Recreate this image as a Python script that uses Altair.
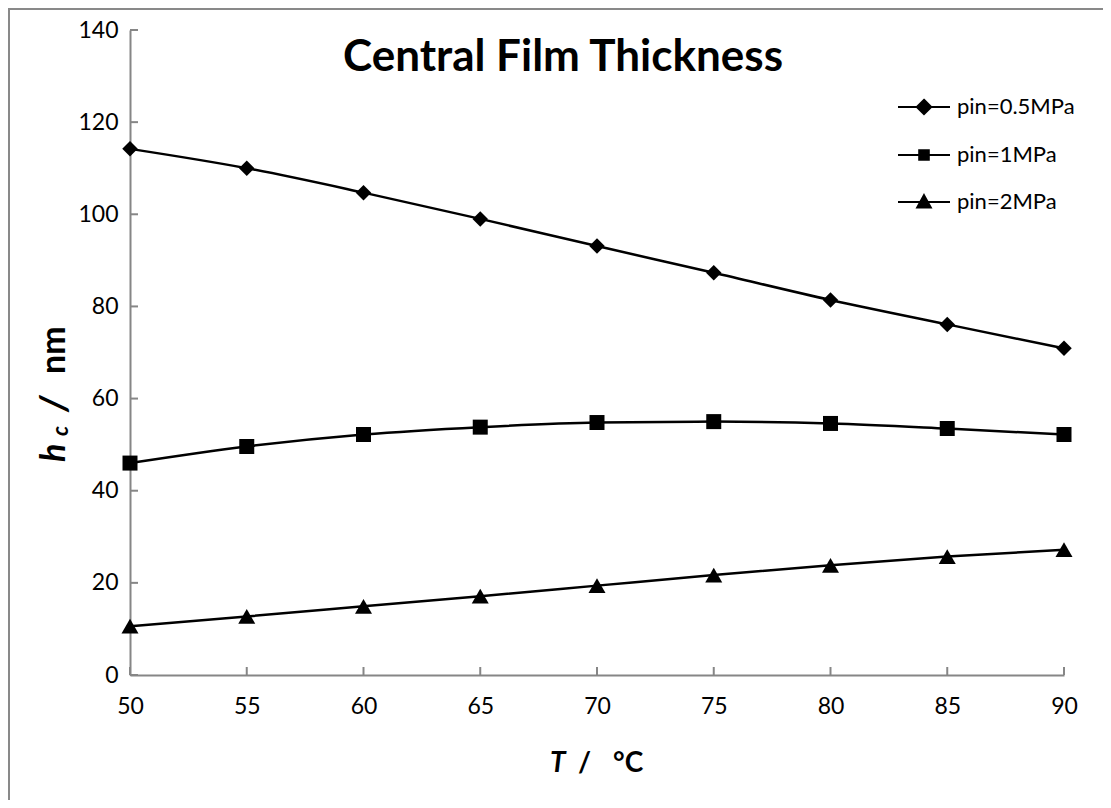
import altair as alt
import pandas as pd

# ---- data ----
T = [50, 55, 60, 65, 70, 75, 80, 85, 90]
series_names = ["pin=0.5MPa", "pin=1MPa", "pin=2MPa"]
hc_05 = [114.2, 110.0, 104.7, 99.0, 93.1, 87.3, 81.4, 76.1, 70.9]
hc_1 = [46.0, 49.6, 52.2, 53.8, 54.8, 55.0, 54.6, 53.5, 52.2]
hc_2 = [10.6, 12.7, 14.9, 17.1, 19.4, 21.7, 23.8, 25.7, 27.2]
x_ticks = [50, 55, 60, 65, 70, 75, 80, 85, 90]
y_ticks = [0, 20, 40, 60, 80, 100, 120, 140]

rows = []
for name, vals in zip(series_names, [hc_05, hc_1, hc_2]):
    for t, v in zip(T, vals):
        rows.append({"T": t, "hc": v, "series": name})
df = pd.DataFrame(rows)

W, H = 934, 645
FONT = "Lato"
AX = "#868686"

xs = alt.Scale(domain=[50, 90], nice=False, zero=False)
ys = alt.Scale(domain=[0, 140], nice=False)

xaxis = alt.Axis(values=x_ticks, title=None, grid=False, ticks=False, domainColor=AX,
                 domainWidth=2, labelFont=FONT, labelFontSize=23, labelColor="black",
                 labelPadding=20, labelFlush=False)
yaxis = alt.Axis(values=y_ticks, title=None, grid=False, ticks=False, domainColor=AX,
                 domainWidth=2, labelFont=FONT, labelFontSize=23, labelColor="black",
                 labelPadding=12)

base = alt.Chart(df)

lines = base.mark_line(color="black", strokeWidth=2.5, interpolate="monotone").encode(
    x=alt.X("T:Q", scale=xs, axis=xaxis),
    y=alt.Y("hc:Q", scale=ys, axis=yaxis),
    detail="series:N",
)

marker_shapes = ["diamond", "square", "triangle-up"]
marker_sizes = [240, 225, 290]
point_layers = []
for name, shp, sz in zip(series_names, marker_shapes, marker_sizes):
    point_layers.append(
        base.transform_filter(alt.datum.series == name)
        .mark_point(filled=True, color="black", opacity=1, shape=shp, size=sz)
        .encode(x=alt.X("T:Q", scale=xs), y=alt.Y("hc:Q", scale=ys))
    )


# legend symbols: line through a solid marker (solid drawn by concentric strokes)
def poly(pts):
    return "M" + "L".join(f"{x:.3f},{y:.3f}" for x, y in pts) + "Z"


def concentric(pts, cx, cy, steps):
    out = ""
    for k in range(steps, 0, -1):
        f = k / steps
        out += poly([(cx + (x - cx) * f, cy + (y - cy) * f) for x, y in pts])
    return out


diamond = [(0, -0.36), (0.36, 0), (0, 0.36), (-0.36, 0)]
square = [(-0.24, -0.24), (0.24, -0.24), (0.24, 0.24), (-0.24, 0.24)]
tri = [(0, -0.34), (0.34, 0.28), (-0.34, 0.28)]
LINE = "M-1.3,0L1.3,0"
leg_paths = [
    LINE + concentric(diamond, 0, 0, 7),
    LINE + concentric(square, 0, 0, 5),
    LINE + concentric(tri, 0, 0.073, 7),
]

legend_layer = base.mark_point(filled=False, color="black", strokeWidth=2, opacity=0).encode(
    x=alt.X("T:Q", scale=xs),
    y=alt.Y("hc:Q", scale=ys),
    shape=alt.Shape("series:N", scale=alt.Scale(domain=series_names, range=leg_paths),
                    legend=alt.Legend(title=None, orient="none", legendX=773, legendY=56,
                                      symbolSize=1600, symbolOpacity=1,
                                      symbolStrokeColor="black", symbolStrokeWidth=2,
                                      labelFont=FONT, labelFontSize=22,
                                      labelColor="black", labelOffset=12, rowPadding=15,
                                      padding=0)),
)

ytick_rules = alt.Chart(pd.DataFrame({"v": y_ticks})).mark_rule(color=AX, strokeWidth=2).encode(
    y=alt.Y("v:Q", scale=ys), x=alt.value(0), x2=alt.value(8))
xtick_rules = alt.Chart(pd.DataFrame({"v": x_ticks})).mark_rule(color=AX, strokeWidth=2).encode(
    x=alt.X("v:Q", scale=xs), y=alt.value(H - 8), y2=alt.value(H))

one = alt.Chart(pd.DataFrame({"k": [0]}))

frame = one.mark_rect(fill="transparent", stroke="#898989", strokeWidth=2).encode(
    x=alt.value(-121), y=alt.value(-21), x2=alt.value(1300), y2=alt.value(1000))

title = one.mark_text(text="Central Film Thickness", font=FONT, fontSize=44, fontWeight="bold",
                      align="center", baseline="alphabetic", color="black").encode(
    x=alt.value(433), y=alt.value(41))

xt1 = one.mark_text(text="T", font=FONT, fontSize=28, fontWeight="bold", fontStyle="italic",
                    align="left", baseline="alphabetic", color="black").encode(
    x=alt.value(420), y=alt.value(742))
xt2 = one.mark_text(text="/", font=FONT, fontSize=28, fontWeight="bold",
                    align="left", baseline="alphabetic", color="black").encode(
    x=alt.value(448), y=alt.value(742))
xt3 = one.mark_text(text="°C", font=FONT, fontSize=28, fontWeight="bold",
                    align="left", baseline="alphabetic", color="black").encode(
    x=alt.value(483), y=alt.value(742))

yt1 = one.mark_text(text="h", font=FONT, fontSize=34, fontWeight="bold", fontStyle="italic",
                    angle=270, align="left", baseline="alphabetic", color="black").encode(
    x=alt.value(-65), y=alt.value(432))
yt2 = one.mark_text(text="c", font=FONT, fontSize=22, fontWeight="bold", fontStyle="italic",
                    angle=270, align="left", baseline="alphabetic", color="black").encode(
    x=alt.value(-62), y=alt.value(406))
yt3 = one.mark_text(text="/", font=FONT, fontSize=38, fontWeight="bold", fontStyle="italic",
                    angle=270, align="left", baseline="alphabetic", color="black").encode(
    x=alt.value(-63), y=alt.value(382))
yt4 = one.mark_text(text="nm", font=FONT, fontSize=34, fontWeight="bold",
                    angle=270, align="left", baseline="alphabetic", color="black").encode(
    x=alt.value(-65), y=alt.value(344))

chart = alt.layer(
    frame, ytick_rules, xtick_rules, lines, *point_layers, legend_layer,
    title, xt1, xt2, xt3, yt1, yt2, yt3, yt4,
).properties(
    width=W, height=H,
    autosize=alt.AutoSizeParams(type="none"),
    padding={"left": 122, "top": 22, "right": 39, "bottom": 125},
).configure_view(stroke=None)

chart.save("out.html", embed_options={"renderer": "svg", "actions": False})
